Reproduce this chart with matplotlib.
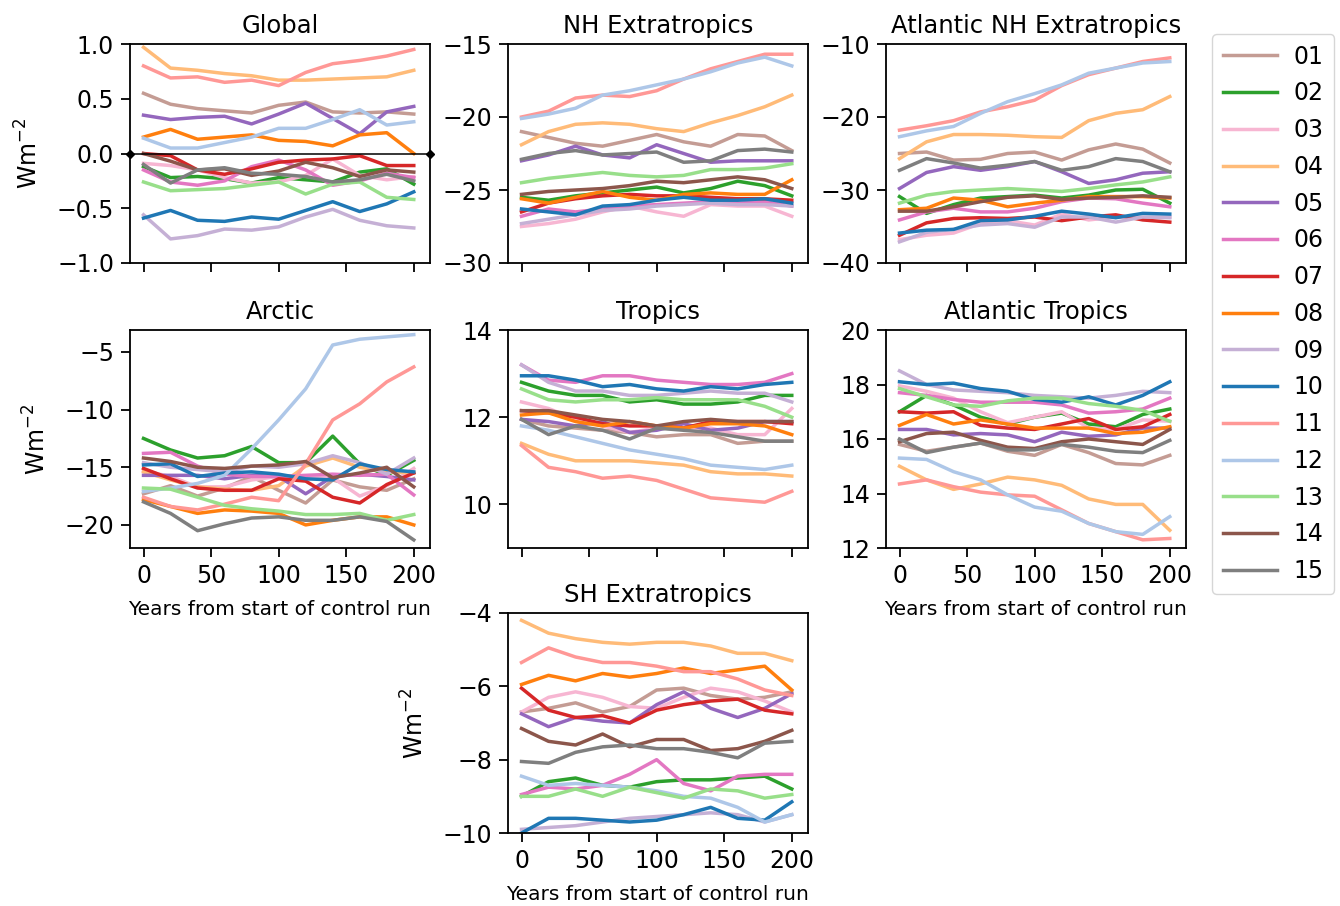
import matplotlib
matplotlib.use("Agg")
import matplotlib.pyplot as plt
import numpy as np

# years from start of control run (one value every 20 years)
years = [0, 20, 40, 60, 80, 100, 120, 140, 160, 180, 200]

members = ["01", "02", "03", "04", "05", "06", "07", "08",
           "09", "10", "11", "12", "13", "14", "15"]
colours = ["#c49c94", "#2ca02c", "#f7b6d2", "#ffbb78", "#9467bd",
           "#e377c2", "#d62728", "#ff7f0e", "#c5b0d5", "#1f77b4",
           "#ff9896", "#aec7e8", "#98df8a", "#8c564b", "#7f7f7f"]

# Net flux anomaly per region, one row per member (01..15)
global_flux = [
    [0.55, 0.45, 0.41, 0.39, 0.37, 0.44, 0.47, 0.38, 0.37, 0.38, 0.36],
    [-0.12, -0.22, -0.21, -0.23, -0.27, -0.22, -0.24, -0.26, -0.17, -0.14, -0.28],
    [-0.09, -0.11, -0.15, -0.22, -0.27, -0.26, -0.20, -0.05, -0.20, -0.24, -0.21],
    [0.97, 0.78, 0.76, 0.73, 0.71, 0.67, 0.67, 0.68, 0.69, 0.70, 0.76],
    [0.35, 0.31, 0.33, 0.34, 0.27, 0.36, 0.46, 0.32, 0.18, 0.38, 0.43],
    [-0.15, -0.26, -0.29, -0.25, -0.12, -0.06, -0.15, -0.29, -0.25, -0.18, -0.22],
    [0.00, -0.02, -0.15, -0.19, -0.14, -0.08, -0.06, -0.05, -0.02, -0.11, -0.11],
    [0.15, 0.22, 0.13, 0.15, 0.17, 0.12, 0.11, 0.07, 0.17, 0.19, 0.00],
    [-0.56, -0.78, -0.75, -0.69, -0.70, -0.67, -0.58, -0.51, -0.61, -0.66, -0.68],
    [-0.59, -0.52, -0.61, -0.62, -0.58, -0.60, -0.52, -0.44, -0.53, -0.46, -0.35],
    [0.80, 0.69, 0.70, 0.65, 0.67, 0.62, 0.74, 0.82, 0.85, 0.89, 0.95],
    [0.14, 0.05, 0.05, 0.10, 0.15, 0.23, 0.23, 0.31, 0.40, 0.26, 0.29],
    [-0.26, -0.34, -0.33, -0.32, -0.29, -0.26, -0.37, -0.28, -0.26, -0.40, -0.42],
    [0.00, -0.07, -0.15, -0.14, -0.20, -0.16, -0.08, -0.13, -0.21, -0.15, -0.17],
    [-0.10, -0.27, -0.15, -0.13, -0.18, -0.19, -0.21, -0.26, -0.24, -0.19, -0.25],
]

nh_extratropics = [
    [-21.0, -21.4, -21.8, -22.0, -21.6, -21.2, -21.7, -22.0, -21.2, -21.3, -22.3],
    [-25.5, -25.7, -25.4, -25.2, -25.0, -24.8, -25.2, -24.9, -24.4, -24.7, -25.4],
    [-27.5, -27.3, -27.0, -26.5, -26.1, -26.5, -26.8, -26.0, -26.1, -26.1, -26.8],
    [-21.9, -21.0, -20.5, -20.4, -20.5, -20.8, -21.0, -20.4, -19.9, -19.3, -18.5],
    [-23.0, -22.6, -22.0, -22.6, -22.8, -21.9, -22.5, -23.1, -23.0, -23.0, -23.0],
    [-26.8, -26.3, -26.5, -26.3, -26.1, -26.0, -25.9, -25.8, -25.9, -25.8, -26.1],
    [-26.5, -25.9, -25.6, -25.4, -25.3, -25.4, -25.4, -25.5, -25.6, -25.6, -25.7],
    [-25.6, -25.9, -25.5, -25.1, -25.5, -25.7, -25.3, -25.2, -25.3, -25.3, -24.3],
    [-27.3, -27.0, -26.7, -26.4, -26.3, -26.1, -26.0, -25.9, -26.0, -26.0, -26.1],
    [-26.3, -26.5, -26.7, -26.1, -26.0, -25.7, -25.5, -25.7, -25.7, -25.6, -25.9],
    [-20.0, -19.6, -18.7, -18.5, -18.6, -18.2, -17.4, -16.7, -16.2, -15.7, -15.7],
    [-20.1, -19.8, -19.4, -18.5, -18.2, -17.8, -17.4, -16.9, -16.3, -15.9, -16.5],
    [-24.5, -24.2, -24.0, -23.8, -24.0, -24.1, -24.0, -23.6, -23.6, -23.5, -23.2],
    [-25.3, -25.1, -25.0, -24.9, -24.7, -24.4, -24.5, -24.3, -24.1, -24.3, -24.9],
    [-22.9, -22.5, -22.3, -22.6, -22.5, -22.4, -23.1, -23.0, -22.3, -22.2, -22.4],
]

atl_nh_extratropics = [
    [-25.0, -24.8, -25.9, -25.8, -25.0, -24.8, -25.9, -24.5, -23.7, -24.4, -26.3],
    [-30.9, -33.2, -32.0, -31.1, -30.9, -30.7, -31.1, -30.7, -30.0, -29.9, -31.8],
    [-36.8, -36.2, -35.9, -34.6, -34.2, -34.8, -33.3, -34.1, -33.7, -33.8, -33.7],
    [-25.7, -23.4, -22.4, -22.4, -22.5, -22.7, -22.8, -20.5, -19.5, -19.0, -17.2],
    [-29.8, -27.6, -26.8, -27.3, -26.8, -26.1, -27.5, -29.1, -28.6, -27.7, -27.5],
    [-34.1, -33.0, -32.5, -33.0, -33.0, -32.5, -31.6, -31.1, -31.2, -31.8, -32.3],
    [-36.2, -34.5, -33.9, -33.8, -33.9, -33.7, -34.2, -33.7, -33.4, -34.1, -34.4],
    [-32.7, -32.5, -31.1, -31.4, -32.3, -31.8, -31.4, -30.9, -30.9, -30.9, -31.1],
    [-37.1, -35.8, -35.4, -34.8, -34.6, -35.1, -33.7, -33.7, -34.4, -33.7, -33.8],
    [-35.9, -35.5, -35.4, -34.2, -34.1, -33.6, -32.9, -33.3, -33.8, -33.2, -33.3],
    [-21.8, -21.2, -20.5, -19.3, -18.6, -17.7, -15.7, -14.2, -13.3, -12.4, -11.9],
    [-22.7, -21.9, -21.3, -19.5, -17.9, -16.8, -15.6, -14.0, -13.3, -12.6, -12.4],
    [-31.8, -30.7, -30.2, -30.0, -29.8, -30.0, -30.2, -29.8, -29.3, -28.9, -28.2],
    [-32.9, -32.9, -32.3, -31.6, -31.0, -30.8, -31.3, -31.1, -31.0, -30.8, -31.0],
    [-27.3, -25.7, -26.3, -27.0, -26.6, -26.1, -27.3, -26.8, -25.7, -26.1, -27.5],
]

arctic = [
    [-17.3, -16.6, -17.5, -16.8, -15.8, -17.0, -18.1, -16.1, -16.7, -17.0, -16.0],
    [-12.5, -13.5, -14.2, -14.0, -13.2, -14.6, -14.6, -12.3, -14.7, -15.7, -14.4],
    [-15.3, -15.8, -16.7, -16.7, -16.1, -15.8, -15.8, -15.9, -17.5, -16.6, -15.1],
    [-15.4, -16.1, -16.7, -16.9, -17.0, -16.6, -14.9, -14.2, -15.0, -15.4, -15.5],
    [-15.7, -15.7, -15.7, -16.0, -15.7, -15.8, -17.3, -15.8, -15.6, -15.8, -16.1],
    [-13.8, -13.7, -14.9, -15.6, -15.8, -15.8, -15.7, -15.6, -15.7, -15.6, -17.4],
    [-15.1, -16.0, -16.8, -17.0, -17.0, -16.0, -16.2, -17.6, -18.1, -16.5, -15.5],
    [-17.8, -18.4, -19.0, -18.7, -18.8, -19.0, -20.0, -19.6, -19.3, -19.3, -20.0],
    [-14.6, -15.0, -15.2, -15.4, -14.9, -15.0, -14.7, -14.0, -14.6, -15.6, -14.2],
    [-14.8, -14.7, -15.8, -15.5, -15.4, -15.6, -16.0, -16.1, -14.7, -15.2, -15.4],
    [-17.6, -18.4, -18.7, -18.2, -17.6, -17.9, -14.7, -10.9, -9.5, -7.6, -6.3],
    [-17.1, -16.8, -16.4, -15.7, -13.4, -10.9, -8.2, -4.4, -3.9, -3.7, -3.5],
    [-16.8, -16.9, -17.6, -18.3, -18.6, -18.8, -19.1, -19.1, -19.0, -19.6, -19.1],
    [-14.2, -14.5, -15.0, -15.1, -14.9, -14.8, -14.5, -15.9, -15.5, -15.0, -16.7],
    [-18.0, -19.0, -20.5, -19.9, -19.4, -19.3, -19.6, -19.6, -19.3, -19.7, -21.3],
]

tropics = [
    [11.95, 11.8, 11.75, 11.7, 11.65, 11.55, 11.6, 11.6, 11.4, 11.45, 11.45],
    [12.8, 12.6, 12.5, 12.5, 12.35, 12.4, 12.3, 12.3, 12.35, 12.5, 12.5],
    [12.35, 12.2, 11.95, 11.8, 11.65, 11.75, 11.75, 11.75, 11.6, 11.6, 12.2],
    [11.4, 11.15, 11.0, 11.0, 11.0, 10.95, 10.9, 10.75, 10.7, 10.7, 10.65],
    [11.95, 11.9, 11.8, 11.9, 11.65, 11.7, 11.85, 11.7, 11.75, 11.9, 11.9],
    [13.2, 12.85, 12.8, 12.95, 12.95, 12.85, 12.8, 12.75, 12.75, 12.8, 13.0],
    [12.15, 12.1, 12.0, 11.85, 11.8, 11.8, 11.75, 11.9, 11.9, 11.9, 11.85],
    [12.05, 12.1, 11.9, 11.8, 11.9, 11.8, 11.75, 11.85, 11.85, 11.8, 11.6],
    [13.2, 12.8, 12.6, 12.6, 12.5, 12.5, 12.55, 12.6, 12.55, 12.55, 12.35],
    [12.95, 12.95, 12.85, 12.7, 12.75, 12.65, 12.6, 12.7, 12.65, 12.75, 12.8],
    [11.35, 10.85, 10.75, 10.6, 10.65, 10.55, 10.35, 10.15, 10.1, 10.05, 10.3],
    [11.8, 11.7, 11.55, 11.4, 11.25, 11.15, 11.05, 10.9, 10.85, 10.8, 10.9],
    [12.65, 12.4, 12.35, 12.4, 12.4, 12.45, 12.4, 12.4, 12.4, 12.25, 12.0],
    [12.15, 12.15, 12.05, 11.95, 11.9, 11.8, 11.9, 11.95, 11.9, 11.9, 11.9],
    [11.95, 11.6, 11.8, 11.7, 11.5, 11.75, 11.7, 11.65, 11.55, 11.45, 11.45],
]

atl_tropics = [
    [15.8, 15.55, 15.7, 15.85, 15.55, 15.4, 15.8, 15.5, 15.1, 15.05, 15.4],
    [17.0, 17.6, 17.25, 16.8, 16.55, 16.8, 16.95, 16.55, 16.45, 16.9, 17.1],
    [17.95, 17.75, 17.5, 17.0, 16.6, 16.8, 17.0, 16.4, 16.35, 16.7, 16.65],
    [15.0, 14.5, 14.15, 14.35, 14.6, 14.5, 14.3, 13.8, 13.6, 13.6, 12.65],
    [16.35, 16.35, 16.15, 16.2, 16.15, 15.9, 16.25, 16.1, 16.15, 16.4, 16.4],
    [17.7, 17.6, 17.45, 17.35, 17.35, 17.35, 17.25, 16.95, 17.0, 17.1, 17.5],
    [17.0, 16.95, 17.0, 16.5, 16.4, 16.35, 16.55, 16.75, 16.35, 16.45, 16.9],
    [16.5, 16.9, 16.55, 16.7, 16.55, 16.4, 16.4, 16.4, 16.2, 16.25, 16.45],
    [18.5, 18.0, 17.8, 17.75, 17.7, 17.6, 17.55, 17.5, 17.6, 17.75, 17.7],
    [18.1, 18.0, 18.05, 17.85, 17.75, 17.45, 17.35, 17.55, 17.25, 17.6, 18.1],
    [14.35, 14.5, 14.25, 14.05, 13.95, 13.9, 13.4, 12.9, 12.6, 12.3, 12.35],
    [15.3, 15.25, 14.8, 14.5, 13.95, 13.5, 13.35, 12.9, 12.6, 12.5, 13.15],
    [17.85, 17.55, 17.25, 17.2, 17.4, 17.5, 17.5, 17.3, 17.2, 17.05, 16.65],
    [15.9, 16.2, 16.25, 15.95, 15.7, 15.65, 15.9, 16.0, 15.9, 15.8, 16.35],
    [16.0, 15.5, 15.7, 15.85, 15.6, 15.6, 15.8, 15.7, 15.55, 15.5, 15.95],
]

sh_extratropics = [
    [-6.7, -6.6, -6.45, -6.7, -6.55, -6.1, -6.05, -6.25, -6.35, -6.3, -6.15],
    [-9.0, -8.6, -8.5, -8.7, -8.75, -8.6, -8.55, -8.55, -8.5, -8.45, -8.8],
    [-6.7, -6.3, -6.15, -6.3, -6.55, -6.6, -6.3, -6.05, -6.15, -6.4, -6.7],
    [-4.2, -4.55, -4.7, -4.8, -4.85, -4.8, -4.8, -4.9, -5.1, -5.1, -5.3],
    [-6.75, -7.1, -6.85, -6.95, -7.0, -6.5, -6.15, -6.6, -6.85, -6.6, -6.2],
    [-8.95, -8.75, -8.8, -8.7, -8.4, -8.0, -8.65, -8.85, -8.45, -8.4, -8.4],
    [-6.05, -6.65, -6.85, -6.8, -7.0, -6.65, -6.5, -6.4, -6.35, -6.65, -6.75],
    [-5.95, -5.7, -5.85, -5.65, -5.75, -5.65, -5.5, -5.65, -5.55, -5.45, -6.1],
    [-9.9, -9.85, -9.8, -9.7, -9.6, -9.55, -9.5, -9.45, -9.5, -9.7, -9.5],
    [-10.0, -9.6, -9.6, -9.65, -9.7, -9.65, -9.5, -9.3, -9.6, -9.65, -9.15],
    [-5.35, -4.95, -5.2, -5.35, -5.35, -5.45, -5.6, -5.6, -5.8, -6.1, -6.25],
    [-8.45, -8.7, -8.65, -8.7, -8.75, -8.85, -9.0, -9.05, -9.3, -9.7, -9.5],
    [-9.0, -9.0, -8.8, -9.0, -8.75, -8.9, -9.05, -8.8, -8.85, -9.05, -8.95],
    [-7.15, -7.5, -7.6, -7.3, -7.65, -7.45, -7.45, -7.75, -7.7, -7.5, -7.2],
    [-8.05, -8.1, -7.8, -7.65, -7.6, -7.7, -7.7, -7.8, -7.95, -7.55, -7.5],
]

plt.rcParams['font.family'] = 'DejaVu Sans'
plt.rcParams['font.size'] = 17

fig = plt.figure(figsize=(13.4, 9.06), dpi=100)

W, H = 1340.0, 906.0
def box(x0, y0, x1, y1):
    return [x0 / W, 1 - y1 / H, (x1 - x0) / W, (y1 - y0) / H]

panels = [
    # title, data, ylim, yticks, axes box, show xticklabels, ylabel
    ("Global", global_flux, (-1.0, 1.0), [-1.0, -0.5, 0.0, 0.5, 1.0], box(130, 44, 430, 263), False, True),
    ("NH Extratropics", nh_extratropics, (-30, -15), [-30, -25, -20, -15], box(508, 44, 808, 263), False, False),
    ("Atlantic NH Extratropics", atl_nh_extratropics, (-40, -10), [-40, -30, -20, -10], box(886, 44, 1186, 263), False, False),
    ("Arctic", arctic, (-22.0, -3.1), [-20, -15, -10, -5], box(130, 330, 430, 548), True, True),
    ("Tropics", tropics, (9, 14), [10, 12, 14], box(508, 330, 808, 548), False, False),
    ("Atlantic Tropics", atl_tropics, (12, 20), [12, 14, 16, 18, 20], box(886, 330, 1186, 548), True, False),
    ("SH Extratropics", sh_extratropics, (-10, -4), [-10, -8, -6, -4], box(508, 613, 808, 833), True, True),
]

handles = []
for title, data, ylim, yticks, rect, xlab, ylab in panels:
    ax = fig.add_axes(rect)
    for i, series in enumerate(data):
        ln, = ax.plot(years, series, color=colours[i], lw=2.5, label=members[i])
        if title == "Global":
            handles.append(ln)
    if title == "Global":
        ax.plot([-10, 212], [0, 0], color='k', lw=1.1, marker='D', ms=4,
                clip_on=False, zorder=5)
    ax.set_xlim(-10, 212)
    ax.set_ylim(*ylim)
    ax.set_yticks(yticks)
    ax.set_xticks([0, 50, 100, 150, 200])
    ax.set_title(title, fontsize=17.5, pad=8)
    ax.tick_params(direction='out', length=6.5, width=1.3, pad=5, labelsize=17)
    for sp in ax.spines.values():
        sp.set_linewidth(1.3)
    if xlab:
        ax.set_xlabel("Years from start of control run", fontsize=14.5, labelpad=9)
    else:
        ax.set_xticklabels([])
    if ylab:
        ax.set_ylabel("Wm$^{-2}$", fontsize=17, labelpad=10)

leg = fig.legend(handles=handles, loc='upper left',
                 bbox_to_anchor=(1212 / W, 1 - 34 / H), borderaxespad=0,
                 fontsize=17, handlelength=2.3, labelspacing=0.54,
                 borderpad=0.45, handletextpad=0.7)
leg.get_frame().set_edgecolor('#cccccc')

fig.savefig("out.png", dpi=100)
